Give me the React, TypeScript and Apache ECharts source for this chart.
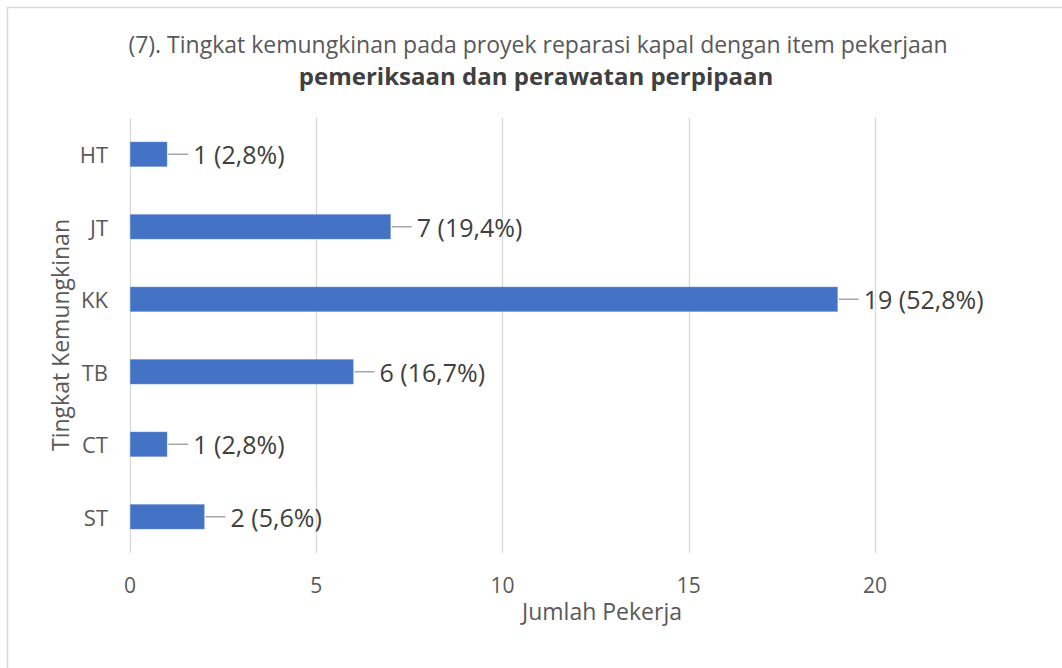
import React, { useEffect, useRef } from "react";
import * as echarts from "echarts";

const categories = ["HT", "JT", "KK", "TB", "CT", "ST"];
const counts = [1, 7, 19, 6, 1, 2];
const xTicks = [0, 5, 10, 15, 20];
const titleLine1 = "(7). Tingkat kemungkinan pada proyek reparasi kapal dengan item pekerjaan";
const titleLine2 = "pemeriksaan dan perawatan perpipaan";
const xName = "Jumlah Pekerja";
const yName = "Tingkat Kemungkinan";

const total = counts.reduce((a, b) => a + b, 0);
const fmtLabel = (v: number) => `${v} (${((v / total) * 100).toFixed(1).replace(".", ",")}%)`;

const FONT = "'Open Sans', 'Noto Sans', sans-serif";

export default function App() {
  const ref = useRef<HTMLDivElement>(null);
  useEffect(() => {
    const chart = echarts.init(ref.current!, null, { renderer: "svg" });
    chart.setOption({
      animation: false,
      backgroundColor: "#ffffff",
      textStyle: { fontFamily: FONT },
      grid: { left: 130, right: 187, top: 118, bottom: 115, containLabel: false },
      xAxis: {
        type: "value",
        min: xTicks[0],
        max: xTicks[xTicks.length - 1],
        interval: 5,
        axisLine: { show: false },
        axisTick: { show: false },
        splitLine: { show: true, lineStyle: { color: "#d9d9d9", width: 1.3 } },
        axisLabel: { color: "#595959", fontSize: 21, margin: 21, fontFamily: FONT },
      },
      yAxis: {
        type: "category",
        data: categories,
        inverse: true,
        axisLine: { show: false },
        axisTick: { show: false },
        axisLabel: { color: "#595959", fontSize: 22, margin: 22, fontFamily: FONT },
      },
      graphic: [
        {
          type: "rect",
          shape: { x: 7.5, y: 7.5, width: 1100, height: 700 },
          style: { fill: "none", stroke: "#d9d9d9", lineWidth: 1.5 },
          silent: true,
          z: -1,
        },
        {
          type: "text",
          x: 538,
          y: 44,
          style: {
            text: titleLine1,
            font: `23px ${FONT}`,
            lineHeight: 24,
            fill: "#595959",
            textAlign: "center",
            textVerticalAlign: "middle",
          },
        },
        {
          type: "text",
          x: 536,
          y: 75,
          style: {
            text: titleLine2,
            font: `bold 24px ${FONT}`,
            lineHeight: 25,
            fill: "#404040",
            textAlign: "center",
            textVerticalAlign: "middle",
          },
        },
        {
          type: "text",
          x: 602,
          y: 611,
          style: {
            text: xName,
            font: `23px ${FONT}`,
            fill: "#595959",
            textAlign: "center",
            textVerticalAlign: "middle",
          },
        },
        {
          type: "text",
          x: 60,
          y: 335,
          rotation: Math.PI / 2,
          style: {
            text: yName,
            font: `23px ${FONT}`,
            fill: "#595959",
            textAlign: "center",
            textVerticalAlign: "middle",
          },
        },
      ],
      series: [
        {
          type: "bar",
          data: counts,
          barWidth: 25,
          itemStyle: { color: "#4472c4", borderColor: "#6f94d6", borderWidth: 0.5 },
          label: {
            show: true,
            position: "right",
            distance: 26,
            color: "#404040",
            fontSize: 25,
            fontFamily: FONT,
            formatter: (p: any) => fmtLabel(p.value),
          },
        },
        {
          type: "custom",
          data: counts.map((v, i) => [v, i]),
          encode: { x: 0, y: 1 },
          silent: true,
          z: 3,
          renderItem: (params: any, api: any) => {
            const pt = api.coord([api.value(0), api.value(1)]);
            return {
              type: "line",
              shape: { x1: pt[0] + 1, y1: pt[1], x2: pt[0] + 21, y2: pt[1] },
              style: { stroke: "#a6a6a6", lineWidth: 1.5 },
            };
          },
        },
      ],
    });
    return () => chart.dispose();
  }, []);
  return (
    <div
      ref={ref}
      style={{ position: "fixed", left: 0, top: 0, width: 1062, height: 668 }}
    />
  );
}
